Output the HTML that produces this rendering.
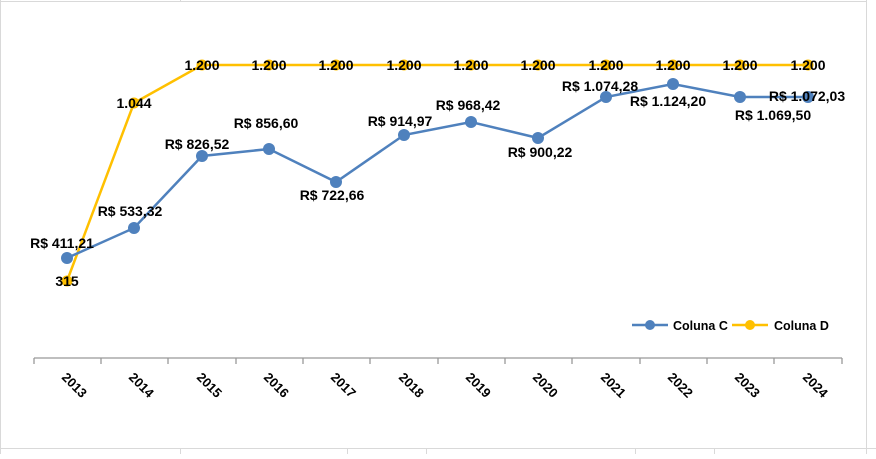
<!DOCTYPE html>
<html><head><style>
body{margin:0;background:#fff}
svg text{font-family:"Liberation Sans",sans-serif;font-weight:bold;font-size:14px;fill:#000}
</style></head><body>
<svg width="876" height="454" xmlns="http://www.w3.org/2000/svg">
<rect x="0" y="0" width="876" height="454" fill="#fff"/>
<g stroke="#d9d9d9" stroke-width="1">
<line x1="0.5" y1="0" x2="0.5" y2="454"/>
<line x1="866.5" y1="0" x2="866.5" y2="454"/>
<line x1="0" y1="448.5" x2="876" y2="448.5"/>
<line x1="0" y1="1.5" x2="866" y2="1.5"/>
<line x1="180.5" y1="0" x2="180.5" y2="2"/>
<line x1="180.5" y1="448" x2="180.5" y2="454"/>
<line x1="347.5" y1="448" x2="347.5" y2="454"/>
<line x1="426.5" y1="448" x2="426.5" y2="454"/>
<line x1="635.5" y1="448" x2="635.5" y2="454"/>
<line x1="714.5" y1="448" x2="714.5" y2="454"/>
</g>
<g stroke="#999" stroke-width="1.3">
<line x1="34" y1="358" x2="842" y2="358"/>
<line x1="34" y1="358" x2="34" y2="364"/><line x1="101" y1="358" x2="101" y2="364"/><line x1="168" y1="358" x2="168" y2="364"/><line x1="236" y1="358" x2="236" y2="364"/><line x1="303" y1="358" x2="303" y2="364"/><line x1="370" y1="358" x2="370" y2="364"/><line x1="438" y1="358" x2="438" y2="364"/><line x1="505" y1="358" x2="505" y2="364"/><line x1="572" y1="358" x2="572" y2="364"/><line x1="640" y1="358" x2="640" y2="364"/><line x1="707" y1="358" x2="707" y2="364"/><line x1="774" y1="358" x2="774" y2="364"/><line x1="842" y1="358" x2="842" y2="364"/>
</g>
<polyline fill="none" stroke="#ffc000" stroke-width="2.5" points="67,281 134,103 202,65 269,65 336,65 404,65 471,65 538,65 606,65 673,65 740,65 808,65"/>
<g fill="#ffc000"><circle cx="67" cy="281" r="5.5"/><circle cx="134" cy="103" r="5.5"/><circle cx="202" cy="65" r="5.5"/><circle cx="269" cy="65" r="5.5"/><circle cx="336" cy="65" r="5.5"/><circle cx="404" cy="65" r="5.5"/><circle cx="471" cy="65" r="5.5"/><circle cx="538" cy="65" r="5.5"/><circle cx="606" cy="65" r="5.5"/><circle cx="673" cy="65" r="5.5"/><circle cx="740" cy="65" r="5.5"/><circle cx="808" cy="65" r="5.5"/></g>
<polyline fill="none" stroke="#4f81bd" stroke-width="2.5" points="67,258 134,228 202,156 269,149 336,182 404,135 471,122 538,138 606,97 673,84 740,97 808,97"/>
<g fill="#4f81bd"><circle cx="67" cy="258" r="6"/><circle cx="134" cy="228" r="6"/><circle cx="202" cy="156" r="6"/><circle cx="269" cy="149" r="6"/><circle cx="336" cy="182" r="6"/><circle cx="404" cy="135" r="6"/><circle cx="471" cy="122" r="6"/><circle cx="538" cy="138" r="6"/><circle cx="606" cy="97" r="6"/><circle cx="673" cy="84" r="6"/><circle cx="740" cy="97" r="6"/><circle cx="808" cy="97" r="6"/></g>
<g text-anchor="middle">
<text x="67" y="286">315</text><text x="134" y="108">1.044</text>
<text x="202" y="70">1.200</text><text x="269" y="70">1.200</text><text x="336" y="70">1.200</text><text x="404" y="70">1.200</text><text x="471" y="70">1.200</text><text x="538" y="70">1.200</text><text x="606" y="70">1.200</text><text x="673" y="70">1.200</text><text x="740" y="70">1.200</text><text x="808" y="70">1.200</text>
<text x="62" y="248">R$ 411,21</text><text x="130" y="216">R$ 533,32</text><text x="197" y="149">R$ 826,52</text><text x="266" y="128">R$ 856,60</text><text x="332" y="200">R$ 722,66</text><text x="400" y="126">R$ 914,97</text><text x="468" y="110">R$ 968,42</text><text x="540" y="157">R$ 900,22</text><text x="600" y="91">R$ 1.074,28</text><text x="668" y="106">R$ 1.124,20</text><text x="773" y="120">R$ 1.069,50</text><text x="807" y="101">R$ 1.072,03</text>
</g>
<g>
<text transform="translate(61,378) rotate(45)" style="font-size:13px">2013</text>
<text transform="translate(128,378) rotate(45)" style="font-size:13px">2014</text>
<text transform="translate(196,378) rotate(45)" style="font-size:13px">2015</text>
<text transform="translate(263,378) rotate(45)" style="font-size:13px">2016</text>
<text transform="translate(330,378) rotate(45)" style="font-size:13px">2017</text>
<text transform="translate(398,378) rotate(45)" style="font-size:13px">2018</text>
<text transform="translate(465,378) rotate(45)" style="font-size:13px">2019</text>
<text transform="translate(532,378) rotate(45)" style="font-size:13px">2020</text>
<text transform="translate(600,378) rotate(45)" style="font-size:13px">2021</text>
<text transform="translate(667,378) rotate(45)" style="font-size:13px">2022</text>
<text transform="translate(734,378) rotate(45)" style="font-size:13px">2023</text>
<text transform="translate(802,378) rotate(45)" style="font-size:13px">2024</text>
</g>
<line x1="632" y1="325" x2="668" y2="325" stroke="#4f81bd" stroke-width="2.5"/><circle cx="650" cy="325" r="5" fill="#4f81bd"/>
<text x="673" y="330" style="font-size:12.5px">Coluna C</text>
<line x1="732" y1="325" x2="768" y2="325" stroke="#ffc000" stroke-width="2.5"/><circle cx="750" cy="325" r="5" fill="#ffc000"/>
<text x="774" y="330" style="font-size:12.5px">Coluna D</text>
</svg>
</body></html>
